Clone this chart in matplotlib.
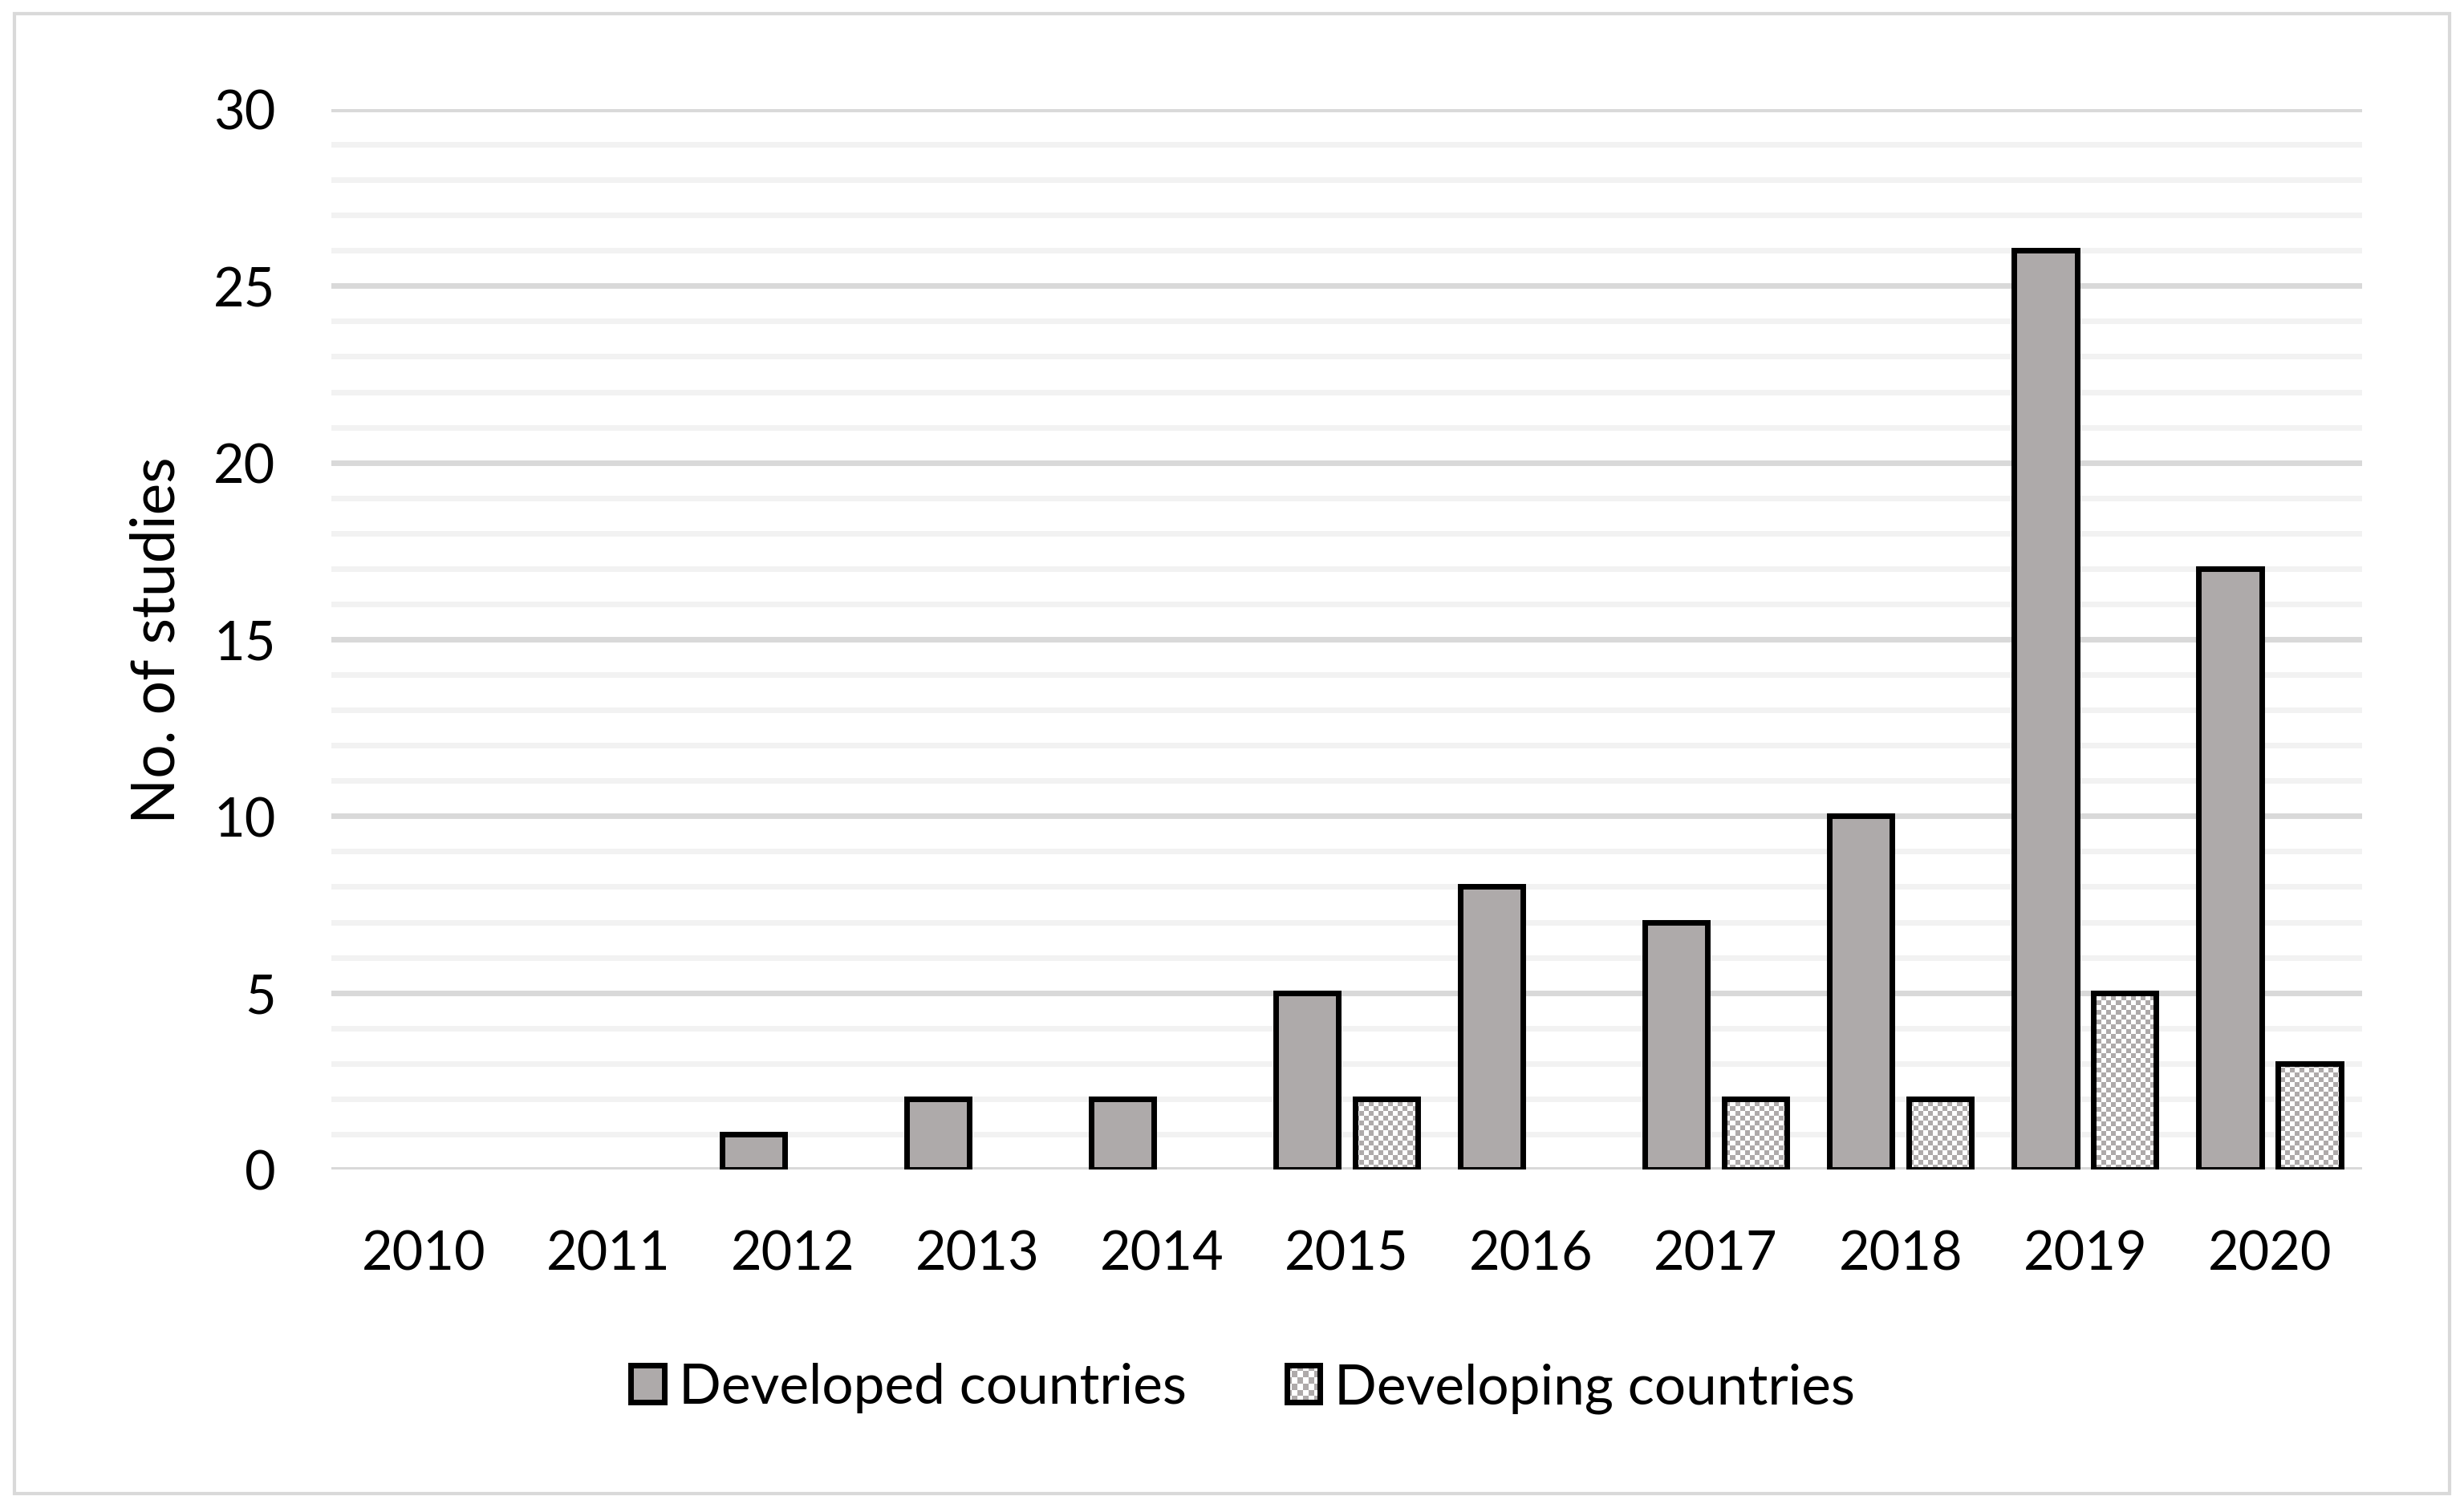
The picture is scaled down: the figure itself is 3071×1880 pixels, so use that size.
import numpy as np
import matplotlib
matplotlib.use("Agg")
import matplotlib.pyplot as plt
from matplotlib.ticker import MultipleLocator
from matplotlib.colors import ListedColormap
from matplotlib.patches import Rectangle, Patch
from matplotlib.legend_handler import HandlerBase

years = ["2010", "2011", "2012", "2013", "2014", "2015", "2016", "2017", "2018", "2019", "2020"]
developed = [0, 0, 1, 2, 2, 5, 8, 7, 10, 26, 17]
developing = [0, 0, 0, 0, 0, 2, 0, 2, 2, 5, 3]

gray = "#aeaaaa"
plt.rcParams["font.family"] = ["Lato", "DejaVu Sans"]
plt.rcParams["font.size"] = 48

fig = plt.figure(figsize=(30.71, 18.81), dpi=100)
ax = fig.add_axes([413 / 3071, 1 - 1459 / 1881, (2944 - 413) / 3071, (1459 - 137) / 1881])

# light border around the whole figure
fig.patches.append(Rectangle((18 / 3071, 18 / 1881), 1 - 36 / 3071, 1 - 36 / 1881,
                             transform=fig.transFigure, fill=False,
                             edgecolor="#d9d9d9", linewidth=3))

x = np.arange(len(years))
width = 0.34
off = 0.215

lw_dev = [5 if v else 0 for v in developed]
lw_dvg = [5 if v else 0 for v in developing]

ax.bar(x - off, developed, width=width, color=gray, edgecolor="black", linewidth=lw_dev, zorder=3)

# developing: white face, checker pattern clipped to each bar, black edge on top
bars = ax.bar(x + off, developing, width=width, color="white", edgecolor="none", linewidth=0, zorder=2)
cell = 6
nx, ny = 2531 // cell, 1322 // cell
checker = (np.indices((ny, nx)).sum(axis=0) % 2).astype(float)
cmap = ListedColormap(["white", gray])
for b, v in zip(bars, developing):
    if v == 0:
        continue
    im = ax.imshow(checker, extent=[-0.5, len(years) - 0.5, 0, 30], aspect="auto",
                   cmap=cmap, interpolation="nearest", zorder=2.5)
    im.set_clip_path(b)
ax.bar(x + off, developing, width=width, color="none", edgecolor="black", linewidth=lw_dvg, zorder=3)
ax.set_xlim(-0.5, len(years) - 0.5)
ax.set_ylim(0, 30)

ax.yaxis.set_major_locator(MultipleLocator(5))
ax.yaxis.set_minor_locator(MultipleLocator(1))
ax.grid(axis="y", which="major", color="#d9d9d9", linewidth=5, zorder=0)
ax.grid(axis="y", which="minor", color="#f2f2f2", linewidth=5, zorder=0)
ax.set_axisbelow(True)
for s in ax.spines.values():
    s.set_visible(False)
ax.tick_params(axis="both", which="both", length=0)
ax.tick_params(axis="y", pad=50)
ax.tick_params(axis="x", pad=54)
ax.set_xticks(x)
ax.set_xticklabels(years)
ax.set_ylabel("No. of studies", fontsize=54)
ax.yaxis.set_label_coords(-0.072, 0.5)


class HandlerChecker(HandlerBase):
    def create_artists(self, legend, orig_handle, xdescent, ydescent, width, height, fontsize, trans):
        arts = [Rectangle((-xdescent, -ydescent), width, height, facecolor="white",
                          edgecolor="none", transform=trans)]
        n = 6
        cw, ch = width / n, height / n
        for i in range(n):
            for j in range(n):
                if (i + j) % 2:
                    arts.append(Rectangle((-xdescent + i * cw, -ydescent + j * ch), cw, ch,
                                          facecolor=gray, edgecolor="none", transform=trans))
        arts.append(Rectangle((-xdescent, -ydescent), width, height, facecolor="none",
                              edgecolor="black", linewidth=5, transform=trans))
        return arts


h1 = Patch(facecolor=gray, edgecolor="black", linewidth=5)
h2 = Patch(facecolor="white", edgecolor="black", linewidth=5)
fig.legend([h1, h2], ["Developed countries", "Developing countries"],
           handler_map={h2: HandlerChecker()}, fontsize=50,
           loc="center", bbox_to_anchor=(1549 / 3071, 1 - 1731 / 1881), ncol=2,
           frameon=False, handlelength=0.6, handleheight=0.65, handletextpad=0.25,
           columnspacing=1.8)

fig.savefig("out.png", dpi=100)
